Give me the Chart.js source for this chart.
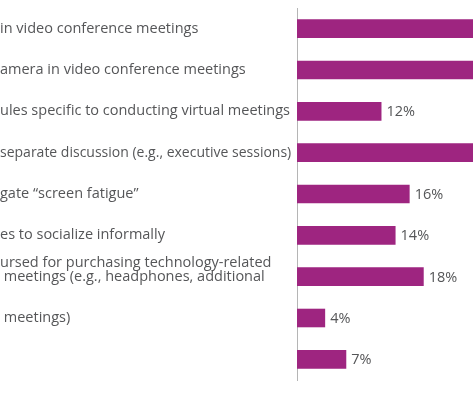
<!DOCTYPE html>
<html>
<head>
<meta charset="utf-8">
<script src="https://cdn.jsdelivr.net/npm/chart.js@4"></script>
<style>
  html, body { margin: 0; padding: 0; background: #ffffff; overflow: hidden; }
  #wrap { position: relative; width: 473px; height: 395px; }
</style>
</head>
<body>
<div id="wrap"><canvas id="chart"></canvas></div>
<script>
// Category labels (the picture is cropped, only the visible ends of the labels remain)
const categories = [
  "in video conference meetings",
  "amera in video conference meetings",
  "ules specific to conducting virtual meetings",
  "separate discussion (e.g., executive sessions)",
  "gate \u201cscreen fatigue\u201d",
  "es to socialize informally",
  ["ursed for purchasing technology-related", " meetings (e.g., headphones, additional", ""],
  " meetings)",
  ""
];

// Percent of respondents (rows 1, 2 and 4 run past the right edge of the crop)
const values = [34, 30, 12, 27, 16, 14, 18, 4, 7];

const barColor = "#9e2580";
const textColor = "#555658";
const fontFamily = "'Open Sans', sans-serif";

// Draw the value labels at the end of each bar
const valueLabels = {
  id: "valueLabels",
  afterDatasetsDraw(chart) {
    const ctx = chart.ctx;
    const meta = chart.getDatasetMeta(0);
    ctx.save();
    ctx.font = "14.5px " + fontFamily;
    ctx.fillStyle = textColor;
    ctx.textAlign = "left";
    ctx.textBaseline = "middle";
    meta.data.forEach((bar, i) => {
      if (bar.x >= chart.chartArea.right) return;
      ctx.fillText(values[i] + "%", bar.x + 5, bar.y + 1);
    });
    ctx.restore();
  }
};

const ctx = document.getElementById("chart").getContext("2d");
new Chart(ctx, {
  type: "bar",
  data: {
    labels: categories,
    datasets: [{
      data: values,
      backgroundColor: barColor,
      borderWidth: 0,
      barPercentage: 0.9,
      categoryPercentage: 0.5
    }]
  },
  options: {
    indexAxis: "y",
    responsive: true,
    maintainAspectRatio: false,
    animation: false,
    layout: { padding: { top: 8, bottom: 15, left: 0, right: 0 } },
    plugins: {
      legend: { display: false },
      tooltip: { enabled: false }
    },
    scales: {
      x: {
        display: false,
        min: 0,
        max: 25
      },
      y: {
        grid: { display: false, drawTicks: false },
        border: { display: true, color: "#b5b5b5", width: 1 },
        ticks: {
          autoSkip: false,
          crossAlign: "far",
          color: textColor,
          padding: 6,
          // the long fourth label is set a touch tighter so it stops before the axis
          font: (c) => ({
            family: fontFamily,
            size: c.index === 3 ? 14 : 14.5,
            lineHeight: 0.95
          })
        },
        afterFit(scale) {
          scale.width = 297;
          scale.paddingTop = 0;
          scale.paddingBottom = 0;
        }
      }
    }
  },
  plugins: [valueLabels]
});
</script>
</body>
</html>
